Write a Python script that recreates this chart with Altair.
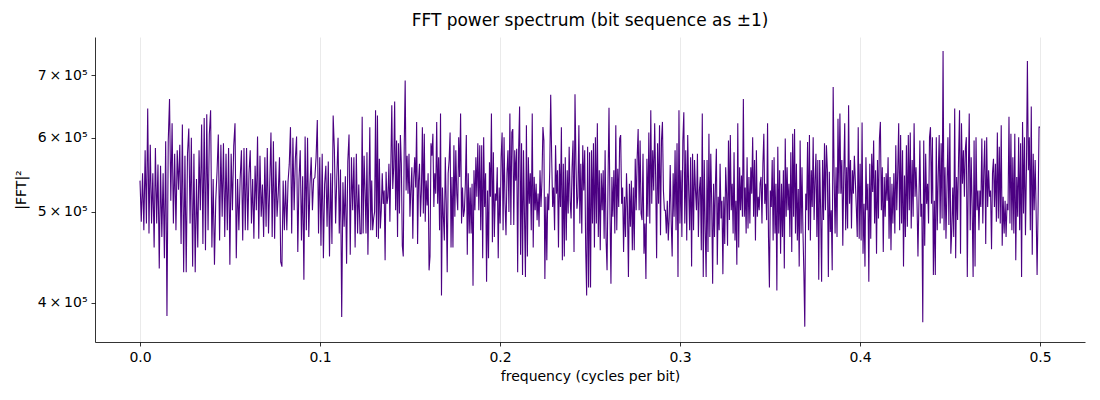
import altair as alt
import numpy as np
import pandas as pd

# segment edges in frequency (cycles per bit)
seg_edges = [0.0, 0.0592, 0.1229, 0.1866, 0.2503, 0.3140, 0.3776, 0.4413, 0.5]

# |FFT|^2 values, in units of 1e5
seg1 = [5.40, 4.88, 5.50, 4.78, 5.82, 4.86, 6.45, 4.74, 5.90, 4.86, 5.50, 4.58, 5.85, 4.86, 5.62, 4.35,
        5.60, 4.70, 5.50, 4.46, 5.95, 3.87, 5.95, 6.60, 5.14, 6.22, 4.86, 5.77, 4.78, 5.82, 5.28, 5.90,
        4.62, 6.20, 4.31, 5.74, 4.31, 5.77, 6.14, 4.86, 6.00, 4.37, 5.77, 4.31, 5.42, 4.58, 5.82, 5.02,
        6.20, 4.62, 6.30, 4.55, 6.36, 4.78, 6.05, 6.42, 4.58, 5.42, 4.39, 5.14, 5.52, 6.05, 4.66, 5.90,
        4.94, 5.92, 4.70, 5.77, 4.78, 5.85, 4.39, 5.77, 5.02, 5.88, 6.22, 4.46, 5.42, 4.78, 5.42, 5.82,
        4.66, 5.85, 4.78]
seg2 = [5.85, 4.78, 5.50, 5.82, 4.86, 5.42, 4.68, 5.60, 5.02, 6.02, 4.68, 5.74, 4.94, 5.35, 4.70, 5.72,
        4.82, 5.85, 4.74, 5.35, 6.08, 4.70, 5.95, 4.68, 5.66, 4.94, 5.24, 5.72, 4.42, 4.37, 5.40, 4.78,
        5.40, 4.78, 5.38, 5.62, 6.16, 4.74, 6.00, 5.02, 5.70, 6.02, 4.53, 5.42, 5.82, 4.66, 5.46, 4.23,
        6.02, 4.78, 6.00, 4.70, 5.35, 5.72, 5.02, 5.42, 5.44, 5.72, 6.27, 4.74, 5.72, 4.60, 5.77, 4.46,
        5.35, 5.60, 4.82, 5.66, 4.48, 5.50, 4.62, 6.34, 5.83, 4.86, 5.46, 6.00, 4.74, 5.55, 3.86, 5.38,
        4.82, 5.46, 4.40, 5.66, 6.05, 4.50, 5.72, 5.02, 5.72, 4.58, 5.77, 4.74, 5.35, 4.74]
seg3 = [4.74, 6.32, 4.74, 5.74, 5.27, 4.74, 5.79, 4.50, 5.23, 6.16, 4.78, 5.40, 4.78, 4.92, 5.00, 6.42,
        4.70, 6.34, 4.68, 5.70, 4.80, 5.02, 5.50, 5.10, 5.27, 4.44, 5.52, 5.10, 5.19, 5.63, 4.88, 5.61,
        6.50, 5.29, 5.58, 6.56, 5.02, 5.96, 4.70, 5.92, 4.98, 6.04, 5.63, 4.60, 4.48, 5.87, 6.91, 5.27,
        5.74, 5.23, 5.77, 4.94, 5.29, 5.58, 4.68, 5.43, 5.72, 5.31, 6.24, 4.62, 5.40, 5.63, 4.94, 5.27,
        6.16, 4.98, 6.06, 4.88, 5.40, 5.08, 5.50, 4.33, 4.48, 5.92, 5.74, 6.06, 5.06, 5.50, 5.23, 6.24,
        5.10, 5.72, 4.78, 6.37, 4.07, 5.31, 4.94, 4.66, 5.72, 5.10, 4.31, 5.50, 5.68, 6.08, 4.58, 5.45,
        4.58, 5.89, 4.94, 5.82, 5.23, 5.02, 6.01, 5.45, 6.37, 4.86, 5.31, 4.94, 5.02, 5.36, 6.04, 4.50,
        5.50, 4.74, 5.31, 4.74, 5.36, 4.17, 5.54, 5.02]
seg4 = [5.72, 5.19, 5.92, 5.02, 5.89, 4.78, 5.89, 4.46, 6.01, 5.06, 5.50, 4.21, 5.27, 4.46, 5.65, 5.19,
        6.37, 4.64, 5.79, 4.70, 5.23, 5.14, 5.58, 4.46, 5.31, 4.86, 5.72, 6.08, 4.78, 6.01, 5.10, 4.72,
        5.50, 5.82, 5.00, 6.37, 4.84, 6.08, 6.13, 4.84, 5.82, 5.40, 5.84, 4.31, 5.82, 6.48, 4.50, 5.92,
        4.28, 5.82, 4.96, 4.26, 6.19, 4.48, 5.72, 5.10, 5.50, 4.78, 6.37, 4.58, 5.45, 5.02, 5.36, 4.90,
        5.23, 4.82, 5.54, 5.06, 5.40, 6.16, 5.96, 4.24, 5.19, 4.44, 5.23, 5.02, 5.54, 6.67, 5.72, 5.06,
        5.31, 4.78, 5.89, 5.23, 5.54, 4.58, 5.63, 5.06, 6.16, 4.44, 5.63, 4.48, 5.72, 4.66, 5.54, 4.98,
        5.87, 5.14, 4.92, 5.58, 5.96, 4.53, 6.68, 5.63, 5.04, 5.19, 6.19, 4.86, 5.63, 4.74, 5.89, 5.27,
        5.82, 4.56, 4.07, 5.87, 4.15, 5.79]
seg5 = [4.15, 5.82, 4.86, 5.92, 4.58, 6.01, 4.86, 6.22, 4.70, 5.54, 4.55, 5.50, 5.02, 5.54, 4.68, 5.82,
        4.66, 4.33, 5.40, 6.46, 5.02, 4.19, 5.45, 4.94, 5.54, 4.74, 6.19, 4.78, 5.56, 5.06, 5.99, 6.04,
        5.10, 5.31, 4.53, 5.19, 4.70, 5.50, 5.06, 4.26, 5.36, 4.82, 5.40, 4.55, 5.31, 4.55, 5.70, 5.02,
        5.72, 6.13, 5.02, 5.96, 4.98, 4.90, 5.77, 4.51, 4.86, 4.24, 5.70, 4.94, 6.08, 4.86, 6.42, 5.10,
        5.82, 5.27, 6.22, 5.45, 4.46, 5.92, 5.10, 6.19, 4.72, 5.96, 6.24, 5.27, 5.02, 5.02, 4.74, 5.14,
        4.66, 4.94, 5.61, 4.88, 4.48, 5.50, 4.94, 5.82, 4.78, 5.92, 4.26, 6.42, 4.86, 5.54, 4.70, 5.96,
        6.39, 4.86, 5.82, 4.66, 6.04, 5.27, 4.78, 5.72, 4.37, 5.77, 4.78, 5.68, 5.27, 5.02, 5.77, 4.70,
        5.27, 5.45, 4.55, 6.37, 4.26, 5.68]
seg6 = [4.78, 4.26, 5.68, 4.53, 6.06, 4.70, 5.77, 5.10, 4.19, 5.36, 4.70, 5.36, 5.84, 4.39, 5.19, 4.78,
        5.63, 4.92, 5.14, 4.29, 5.19, 4.62, 5.58, 5.23, 4.60, 5.96, 4.90, 6.04, 5.02, 5.36, 4.74, 5.79,
        4.66, 5.14, 4.39, 6.22, 4.58, 5.58, 5.02, 5.47, 4.94, 6.60, 4.94, 5.31, 4.74, 5.72, 4.80, 5.45,
        4.86, 5.58, 5.23, 6.01, 4.94, 5.68, 4.66, 5.82, 4.94, 5.19, 5.02, 5.36, 5.45, 4.86, 5.63, 6.06,
        5.10, 5.36, 4.90, 6.22, 4.70, 4.15, 5.27, 5.06, 5.68, 4.66, 5.72, 4.74, 5.36, 4.12, 5.87, 4.74,
        5.54, 4.51, 5.36, 4.70, 5.54, 4.35, 5.99, 4.94, 5.58, 5.02, 5.36, 4.70, 5.79, 4.53, 6.06, 4.94,
        6.13, 4.74, 5.63, 4.66, 5.29, 4.37, 5.96, 4.74, 5.58, 4.78, 4.31, 3.77, 5.23, 5.02, 5.94, 4.78,
        6.04, 4.66, 5.54, 5.06, 6.01, 4.90, 5.40, 5.77, 4.70, 5.68, 4.23]
seg7 = [5.68, 5.02, 4.21, 5.68, 4.90, 5.92, 5.02, 5.89, 5.54, 4.26, 5.52, 4.76, 5.02, 4.33, 6.80, 5.45,
        4.74, 5.58, 4.70, 6.29, 5.23, 6.37, 5.23, 5.68, 4.60, 5.50, 6.22, 4.78, 5.58, 4.80, 6.50, 5.10,
        5.68, 4.80, 5.54, 5.23, 5.74, 5.40, 5.06, 4.70, 6.16, 4.68, 5.63, 4.66, 6.23, 4.51, 5.10, 4.37,
        5.72, 5.02, 5.36, 4.21, 5.63, 4.68, 5.77, 5.25, 5.96, 4.86, 5.54, 4.51, 5.68, 4.92, 5.99, 6.24,
        5.02, 5.58, 4.53, 5.45, 4.94, 5.50, 5.14, 5.72, 4.68, 5.45, 4.55, 5.36, 4.86, 5.50, 4.74, 5.89,
        5.02, 5.52, 6.22, 4.78, 6.04, 4.86, 5.82, 4.37, 5.47, 4.70, 5.89, 4.82, 6.04, 5.02, 6.08, 4.80,
        5.68, 4.94, 6.22, 5.19, 5.58, 5.14, 4.48, 5.14, 5.96, 4.94, 5.10, 3.81, 5.96, 4.60, 5.77, 5.10,
        5.36, 4.86, 6.01, 6.16, 5.10, 6.01, 4.28]
seg8 = [5.14, 4.28, 6.01, 4.78, 5.45, 6.04, 4.86, 5.92, 4.92, 7.43, 4.78, 5.58, 4.68, 5.29, 6.01, 4.84,
        6.22, 4.51, 4.78, 5.31, 4.70, 6.45, 4.46, 5.45, 4.90, 5.72, 6.42, 4.51, 6.22, 5.36, 5.82, 5.19,
        5.84, 6.01, 4.26, 5.45, 6.37, 4.78, 5.72, 5.06, 4.26, 5.96, 4.37, 6.01, 5.02, 5.27, 4.78, 5.27,
        5.06, 5.99, 4.86, 5.54, 5.96, 4.62, 6.01, 5.06, 5.54, 5.19, 5.27, 4.56, 5.50, 5.70, 5.06, 5.63,
        4.88, 6.08, 4.92, 5.87, 4.86, 6.19, 4.60, 5.19, 4.74, 5.14, 4.70, 5.10, 5.02, 6.32, 4.86, 6.06,
        4.78, 5.72, 4.74, 6.06, 4.44, 5.45, 4.94, 6.01, 4.78, 5.92, 4.26, 6.24, 4.98, 6.01, 4.72, 5.54,
        7.25, 5.54, 6.01, 4.78, 6.48, 4.50, 5.77, 5.02, 5.68, 5.02, 4.28, 5.02, 6.16, 6.16]

segments = [seg1, seg2, seg3, seg4, seg5, seg6, seg7, seg8]

freqs, powers = [], []
for i, seg in enumerate(segments):
    last = i == len(segments) - 1
    f = np.linspace(seg_edges[i], seg_edges[i + 1], len(seg), endpoint=last)
    freqs.extend(f.tolist())
    powers.extend([v * 1e5 for v in seg])

df = pd.DataFrame({"freq": freqs, "power": powers})

x_ticks = [0.0, 0.1, 0.2, 0.3, 0.4, 0.5]
y_ticks = [4e5, 5e5, 6e5, 7e5]

common_axis = dict(domainColor="black", tickColor="black", tickSize=4, domainWidth=0.8,
                   tickWidth=0.8, labelPadding=4, labelFontSize=14, titleFontSize=14,
                   labelColor="black", titleColor="black", titleFontWeight="normal",
                   labelFont="DejaVu Sans", titleFont="DejaVu Sans")

line = alt.Chart(df).mark_line(color="#4b0082", strokeWidth=1.1, interpolate="linear").encode(
    x=alt.X("freq:Q",
            scale=alt.Scale(domain=[-0.025, 0.525], nice=False, zero=False),
            axis=alt.Axis(title="frequency (cycles per bit)", values=x_ticks, format=".1f",
                          grid=True, gridColor="#e5e5e5", gridWidth=0.8,
                          titlePadding=5, **common_axis)),
    y=alt.Y("power:Q",
            scale=alt.Scale(type="log", domain=[3.63e5, 7.69e5], nice=False, zero=False),
            axis=alt.Axis(title="|FFT|²", values=y_ticks, grid=False,
                          labelExpr="format(datum.value/1e5, 'd') + '\u2009×\u200910⁵'",
                          titlePadding=9, **common_axis)),
)

chart = line.properties(
    width=990,
    height=305,
    background="white",
    title=alt.TitleParams("FFT power spectrum (bit sequence as ±1)", fontSize=17,
                          font="DejaVu Sans", fontWeight="normal", color="black",
                          anchor="middle", offset=7),
    autosize=alt.AutoSizeParams(type="none"),
    padding={"left": 87, "top": 29, "right": 4, "bottom": 50},
).configure_view(strokeWidth=0, stroke="transparent")

chart.save("out.html", embed_options={"renderer": "svg", "actions": False})
